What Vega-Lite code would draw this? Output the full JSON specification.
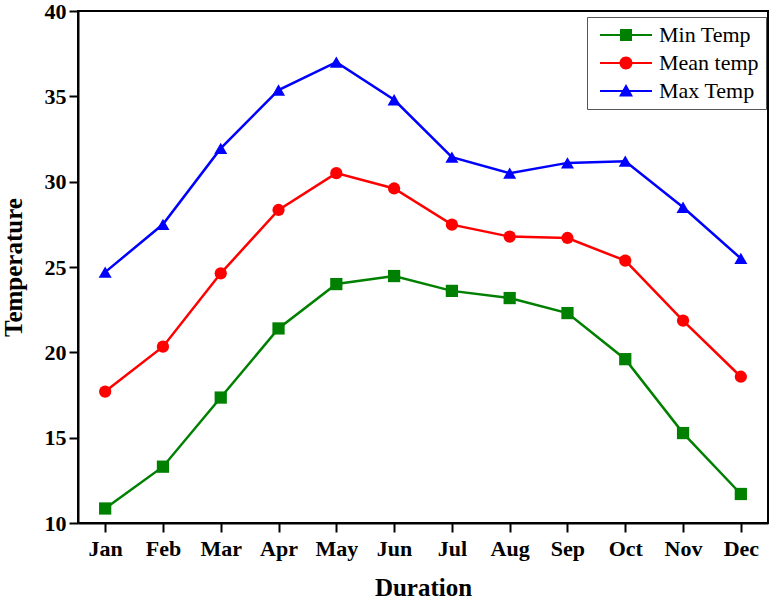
{
  "$schema": "https://vega.github.io/schema/vega-lite/v6.json",
  "width": 690,
  "height": 512,
  "autosize": {"type": "none"},
  "padding": {"left": 78, "top": 11, "right": 6, "bottom": 81},
  "background": "white",
  "config": {
    "view": {"stroke": "black", "strokeWidth": 2},
    "font": "Liberation Serif",
    "axis": {
      "grid": false,
      "domainColor": "black",
      "domainWidth": 2,
      "tickColor": "black",
      "tickWidth": 2,
      "tickSize": 9,
      "labelFont": "Liberation Serif",
      "labelFontWeight": "bold",
      "labelFontSize": 22,
      "labelColor": "black",
      "titleFont": "Liberation Serif",
      "titleFontWeight": "bold",
      "titleFontSize": 25,
      "titleColor": "black"
    },
    "legend": {
      "title": null,
      "orient": "none",
      "legendX": 509,
      "legendY": 6,
      "padding": 7,
      "strokeColor": "#555555",
      "strokeWidth": 1,
      "fillColor": "white",
      "symbolSize": 400,
      "symbolOpacity": 1,
      "symbolStrokeWidth": 0,
      "labelFont": "Liberation Serif",
      "labelFontSize": 22,
      "labelColor": "black",
      "labelOffset": 43,
      "rowPadding": 6
    }
  },
  "data": {
    "values": [
      {"month": "Jan", "series": "Min Temp", "value": 10.85},
      {"month": "Feb", "series": "Min Temp", "value": 13.3},
      {"month": "Mar", "series": "Min Temp", "value": 17.35},
      {"month": "Apr", "series": "Min Temp", "value": 21.4},
      {"month": "May", "series": "Min Temp", "value": 24.0},
      {"month": "Jun", "series": "Min Temp", "value": 24.47},
      {"month": "Jul", "series": "Min Temp", "value": 23.6},
      {"month": "Aug", "series": "Min Temp", "value": 23.18},
      {"month": "Sep", "series": "Min Temp", "value": 22.3},
      {"month": "Oct", "series": "Min Temp", "value": 19.6},
      {"month": "Nov", "series": "Min Temp", "value": 15.27},
      {"month": "Dec", "series": "Min Temp", "value": 11.7},
      {"month": "Jan", "series": "Mean temp", "value": 17.7},
      {"month": "Feb", "series": "Mean temp", "value": 20.33},
      {"month": "Mar", "series": "Mean temp", "value": 24.63},
      {"month": "Apr", "series": "Mean temp", "value": 28.34},
      {"month": "May", "series": "Mean temp", "value": 30.5},
      {"month": "Jun", "series": "Mean temp", "value": 29.6},
      {"month": "Jul", "series": "Mean temp", "value": 27.48},
      {"month": "Aug", "series": "Mean temp", "value": 26.78},
      {"month": "Sep", "series": "Mean temp", "value": 26.7},
      {"month": "Oct", "series": "Mean temp", "value": 25.37},
      {"month": "Nov", "series": "Mean temp", "value": 21.86},
      {"month": "Dec", "series": "Mean temp", "value": 18.57},
      {"month": "Jan", "series": "Max Temp", "value": 24.7},
      {"month": "Feb", "series": "Max Temp", "value": 27.5},
      {"month": "Mar", "series": "Max Temp", "value": 31.95},
      {"month": "Apr", "series": "Max Temp", "value": 35.37},
      {"month": "May", "series": "Max Temp", "value": 37.0},
      {"month": "Jun", "series": "Max Temp", "value": 34.8},
      {"month": "Jul", "series": "Max Temp", "value": 31.44},
      {"month": "Aug", "series": "Max Temp", "value": 30.5},
      {"month": "Sep", "series": "Max Temp", "value": 31.1},
      {"month": "Oct", "series": "Max Temp", "value": 31.2},
      {"month": "Nov", "series": "Max Temp", "value": 28.5},
      {"month": "Dec", "series": "Max Temp", "value": 25.5}
    ]
  },
  "encoding": {
    "x": {
      "field": "month",
      "type": "ordinal",
      "sort": ["Jan", "Feb", "Mar", "Apr", "May", "Jun", "Jul", "Aug", "Sep", "Oct", "Nov", "Dec"],
      "scale": {"type": "point", "padding": 0.47},
      "axis": {"title": "Duration", "labelAngle": 0, "labelPadding": 6, "titlePadding": 16}
    },
    "y": {
      "field": "value",
      "type": "quantitative",
      "scale": {"domain": [10, 40], "nice": false, "zero": false},
      "axis": {"title": "Temperature", "values": [10, 15, 20, 25, 30, 35, 40], "labelPadding": 3, "titlePadding": 18}
    },
    "color": {
      "field": "series",
      "type": "nominal",
      "scale": {"domain": ["Min Temp", "Mean temp", "Max Temp"], "range": ["#008000", "#ff0000", "#0000ff"]}
    }
  },
  "layer": [
    {"mark": {"type": "line", "strokeWidth": 2.5}},
    {
      "transform": [{"filter": "datum.series === 'Min Temp'"}],
      "mark": {"type": "point", "shape": "square", "filled": true, "opacity": 1, "size": 150}
    },
    {
      "transform": [{"filter": "datum.series === 'Mean temp'"}],
      "mark": {"type": "point", "shape": "circle", "filled": true, "opacity": 1, "size": 150}
    },
    {
      "transform": [{"filter": "datum.series === 'Max Temp'"}],
      "mark": {"type": "point", "shape": "triangle-up", "filled": true, "opacity": 1, "size": 170}
    },
    {
      "mark": {"type": "point", "filled": true, "opacity": 0},
      "encoding": {
        "shape": {
          "field": "series",
          "type": "nominal",
          "scale": {
            "domain": ["Min Temp", "Mean temp", "Max Temp"],
            "range": [
              "M-0.5,-0.1H4.7V0.1H-0.5Z M1.5,-0.6H2.7V0.6H1.5Z",
              "M-0.5,-0.1H4.7V0.1H-0.5Z M1.45,0A0.65,0.65 0 1,1 2.75,0A0.65,0.65 0 1,1 1.45,0Z",
              "M-0.5,-0.1H4.7V0.1H-0.5Z M2.1,-0.7L2.8,0.55H1.4Z"
            ]
          }
        }
      }
    }
  ]
}
